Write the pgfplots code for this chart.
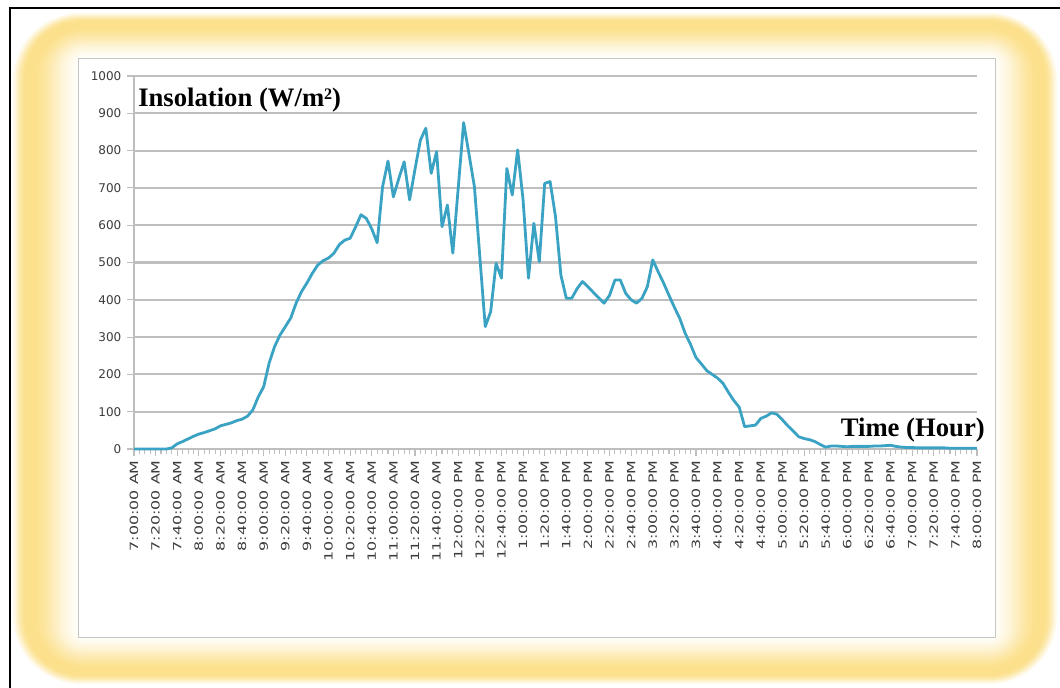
\documentclass[border=0pt]{standalone}
\usepackage{pgfplots}
\pgfplotsset{compat=1.18}
\usepackage{pgfplotstable}
\usepackage{fontspec}
\setmainfont{Liberation Serif}
\newfontfamily\tickfont{DejaVu Sans}
\definecolor{lineblue}{RGB}{58,163,196}
\definecolor{glow}{RGB}{252,224,140}
\definecolor{gridc}{RGB}{190,190,190}
\definecolor{tickc}{RGB}{60,60,60}
\newcommand\tl[1]{\scalebox{1.4}[1]{#1}}

\pgfplotstableread{
t v
0 0
5 0
10 0
15 0
20 0
25 0
30 0
35 3
40 14
45 20
50 27
55 34
60 40
65 44
70 49
75 54
80 62
85 66
90 70
95 76
100 80
105 88
110 105
115 140
120 167
125 230
130 274
135 305
140 328
145 351
150 391
155 422
160 445
165 471
170 493
175 505
180 512
185 525
190 548
195 560
200 565
205 595
210 628
215 618
220 590
225 553
230 703
235 772
240 676
245 725
250 770
255 668
260 750
265 828
270 860
275 739
280 797
285 596
290 654
295 525
300 700
305 875
310 790
315 703
320 515
325 328
330 368
335 498
340 458
345 752
350 681
355 802
360 668
365 458
370 605
375 502
380 712
385 717
390 623
395 466
400 404
405 404
410 430
415 449
420 435
425 420
430 405
435 391
440 412
445 453
450 453
455 417
460 400
465 391
470 404
475 435
480 507
485 475
490 445
495 412
500 380
505 350
510 310
515 280
520 245
525 228
530 210
535 200
540 190
545 176
550 152
555 130
560 112
565 60
570 62
575 64
580 82
585 88
590 97
595 93
600 78
605 62
610 48
615 33
620 28
625 25
630 20
635 12
640 5
645 8
650 8
655 7
660 6
665 7
670 7
675 7
680 7
685 8
690 8
695 9
700 10
705 7
710 5
715 4
720 4
725 3
730 3
735 3
740 3
745 3
750 3
755 2
760 2
765 2
770 2
775 2
780 2
}\insol

\begin{document}
\begin{tikzpicture}
\useasboundingbox (0,0) rectangle (795pt,515.25pt);
\clip (0,0) rectangle (795pt,515.25pt);
\fill[white] (0,0) rectangle (795pt,515.25pt);
\begin{scope}[x=0.75pt,y=-0.75pt,yshift=515.25pt]
  \draw[black, line width=1.2pt] (10,8) rectangle (1075,700);
  \foreach \s/\c in {0/20,0.04/42,0.08/65,0.12/85,0.16/96,0.2/100,0.25/100,0.3/100,0.35/97,0.4/91,0.45/84,0.5/76,0.55/67,0.6/58,0.65/49,0.7/40,0.75/32,0.8/24,0.85/17,0.9/11,0.95/6}{
    \pgfmathsetmacro\xl{13+\s*65}
    \pgfmathsetmacro\yt{13+\s*45}
    \pgfmathsetmacro\xr{1057-\s*62}
    \pgfmathsetmacro\yb{684-\s*47}
    \pgfmathsetmacro\rr{46*(1-\s)+5}
    \fill[glow!\c, rounded corners=\rr pt] (\xl,\yt) rectangle (\xr,\yb);
  }
  \filldraw[fill=white, draw=gray!45, line width=0.6pt] (78,58) rectangle (995,637);
\end{scope}
\begin{axis}[
  at={(100.5pt,178.5pt)}, anchor=south west,
  scale only axis, width=632.25pt, height=279.75pt,
  xmin=0, xmax=780, ymin=0, ymax=1000,
  clip=false,
  axis x line*=bottom, axis y line*=left,
  axis line style={-, draw=gridc, line width=1pt},
  ytick={0,100,...,1000},
  ymajorgrids,
  major grid style={draw=gridc, line width=1.6pt},
  xtick={0,20,...,780},
  minor x tick num=3,
  tick align=outside,
  major tick length=5pt, minor tick length=4pt,
  every tick/.style={draw=gridc, line width=0.8pt},
  /pgf/number format/assume math mode=true,
  /pgf/number format/1000 sep={},
  yticklabel style={font=\tickfont\fontsize{9}{9}\selectfont, text=tickc, xshift=-1pt},
  xticklabel style={font=\tickfont\fontsize{8.5}{8.5}\selectfont, text=tickc, rotate=90, anchor=east},
  xticklabels={\tl{7:00:00 AM},\tl{7:20:00 AM},\tl{7:40:00 AM},\tl{8:00:00 AM},\tl{8:20:00 AM},\tl{8:40:00 AM},\tl{9:00:00 AM},\tl{9:20:00 AM},\tl{9:40:00 AM},\tl{10:00:00 AM},\tl{10:20:00 AM},\tl{10:40:00 AM},\tl{11:00:00 AM},\tl{11:20:00 AM},\tl{11:40:00 AM},\tl{12:00:00 PM},\tl{12:20:00 PM},\tl{12:40:00 PM},\tl{1:00:00 PM},\tl{1:20:00 PM},\tl{1:40:00 PM},\tl{2:00:00 PM},\tl{2:20:00 PM},\tl{2:40:00 PM},\tl{3:00:00 PM},\tl{3:20:00 PM},\tl{3:40:00 PM},\tl{4:00:00 PM},\tl{4:20:00 PM},\tl{4:40:00 PM},\tl{5:00:00 PM},\tl{5:20:00 PM},\tl{5:40:00 PM},\tl{6:00:00 PM},\tl{6:20:00 PM},\tl{6:40:00 PM},\tl{7:00:00 PM},\tl{7:20:00 PM},\tl{7:40:00 PM},\tl{8:00:00 PM}},
]
\addplot[lineblue, line width=2.1pt, line join=round] table[x=t, y=v] {\insol};
\end{axis}
\begin{scope}[x=0.75pt,y=-0.75pt,yshift=515.25pt]
  \node[anchor=base west, inner sep=0pt, font=\bfseries\fontsize{20}{20}\selectfont] at (138,107) {Insolation (W/m\raisebox{5.5pt}{\fontsize{12}{12}\selectfont 2})};
  \node[anchor=base east, inner sep=0pt, font=\bfseries\fontsize{20}{20}\selectfont] at (985,436) {Time (Hour)};
\end{scope}
\end{tikzpicture}
\end{document}
